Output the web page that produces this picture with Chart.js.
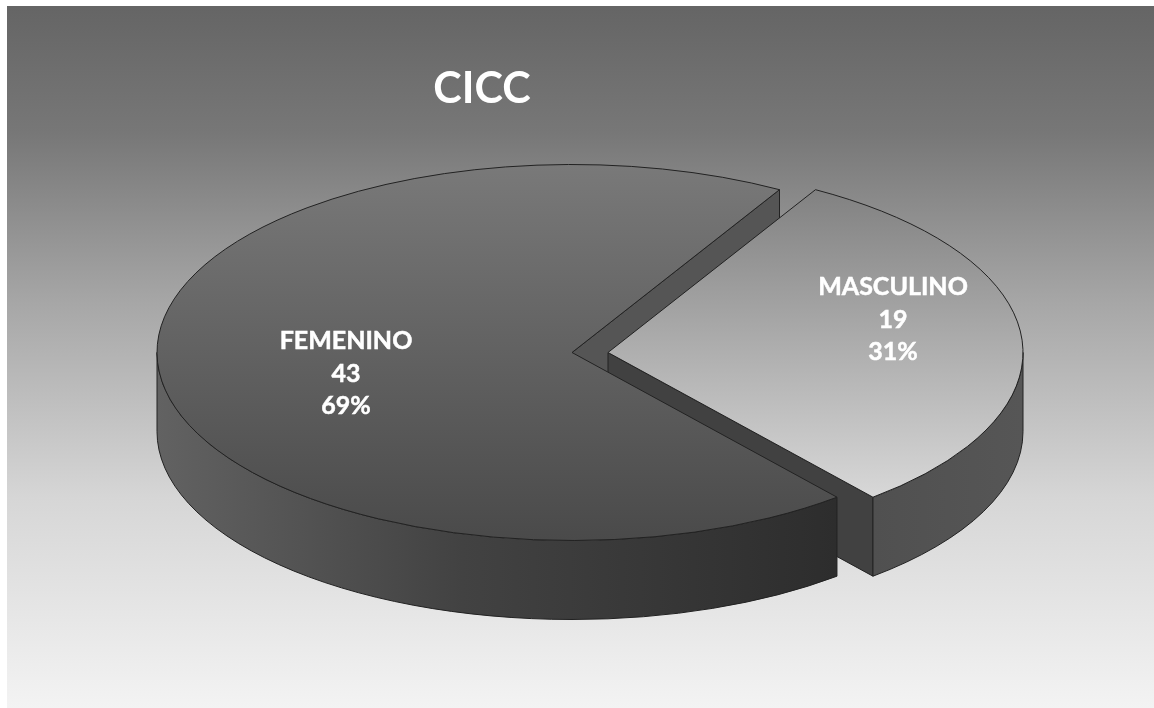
<!DOCTYPE html>
<html><head><meta charset="utf-8">
<style>html,body{margin:0;padding:0;background:#fff}canvas{display:block;filter:blur(0.5px)}</style>
<script src="https://cdn.jsdelivr.net/npm/chart.js@4"></script>
</head><body><canvas id="c" width="1154" height="708"></canvas>
<script>
const titleText = 'CICC';
const categories = ['MASCULINO', 'FEMENINO'];
const counts = [19, 43];
const percentLabels = ['31%', '69%'];

// presentation constants
const RX = 415, RY = 188, DEPTH = 79;
const CENTERS = [[608, 352.5], [572, 352.5]];
const LABEL_POS = [[893, 287], [346, 341]];
const LINE_GAP = 32.5;
const INK = '#222222';

function topGradient(ctx) {
  const chart = ctx.chart, i = ctx.dataIndex;
  const a = chart.chartArea;
  const r = chart.getDatasetMeta(0).controller.outerRadius;
  if (!a || !r || i === undefined) return '#777777';
  const y = (a.top + a.bottom) / 2;
  const g = chart.ctx.createLinearGradient(0, y - r, 0, y + r);
  if (i === 0) { g.addColorStop(0, '#7a7a7a'); g.addColorStop(1, '#e4e4e4'); }
  else { g.addColorStop(0, '#797979'); g.addColorStop(1, '#4a4a4a'); }
  return g;
}
const pt = (c, a, d = 0) => [c[0] + RX * Math.cos(a), c[1] + d + RY * Math.sin(a)];

function paint(ctx, fill) {
  ctx.fillStyle = fill; ctx.fill();
  ctx.strokeStyle = INK; ctx.lineWidth = 1; ctx.stroke();
}
function rimWall(ctx, c, a0, a1, fill) {
  ctx.beginPath();
  ctx.ellipse(c[0], c[1], RX, RY, 0, a0, a1);
  ctx.ellipse(c[0], c[1] + DEPTH, RX, RY, 0, a1, a0, true);
  ctx.closePath();
  paint(ctx, fill);
}
function cutWall(ctx, c, a, fill) {
  const p = pt(c, a);
  ctx.beginPath();
  ctx.moveTo(c[0], c[1]); ctx.lineTo(p[0], p[1]);
  ctx.lineTo(p[0], p[1] + DEPTH); ctx.lineTo(c[0], c[1] + DEPTH);
  ctx.closePath();
  paint(ctx, fill);
}
function topFace(ctx, arc, c) {
  const r = arc.outerRadius;
  ctx.save();
  ctx.translate(c[0], c[1]);
  ctx.scale(RX / r, RY / r);
  ctx.translate(-arc.x, -arc.y);
  arc.draw(ctx);
  ctx.restore();
  ctx.beginPath();
  ctx.moveTo(c[0], c[1]);
  ctx.ellipse(c[0], c[1], RX, RY, 0, arc.startAngle, arc.endAngle);
  ctx.closePath();
  ctx.strokeStyle = INK; ctx.lineWidth = 1; ctx.stroke();
}

const pie3d = {
  id: 'pie3d',
  beforeDraw(chart) {
    const ctx = chart.ctx;
    const g = ctx.createLinearGradient(0, 6, 0, 708);
    g.addColorStop(0, '#656565');
    g.addColorStop(0.18, '#777777');
    g.addColorStop(0.42, '#a6a6a6');
    g.addColorStop(0.7, '#d6d6d6');
    g.addColorStop(1, '#f3f3f3');
    ctx.fillStyle = g;
    ctx.fillRect(7, 6, 1147, 702);
  },
  beforeDatasetDraw(chart) {
    const ctx = chart.ctx;
    const [masc, fem] = chart.getDatasetMeta(0).data;
    const cm = CENTERS[0], cf = CENTERS[1];
    ctx.save();
    ctx.lineJoin = 'round';
    cutWall(ctx, cf, fem.endAngle, '#555555');
    cutWall(ctx, cm, masc.endAngle, '#414141');
    const mg = ctx.createLinearGradient(873, 0, 1023, 0);
    mg.addColorStop(0, '#505050'); mg.addColorStop(1, '#565656');
    rimWall(ctx, cm, 0, masc.endAngle, mg);
    topFace(ctx, masc, cm);
    const fg = ctx.createLinearGradient(157, 0, 836, 0);
    fg.addColorStop(0, '#626262'); fg.addColorStop(0.45, '#424242'); fg.addColorStop(1, '#2d2d2d');
    rimWall(ctx, cf, fem.startAngle, Math.PI, fg);
    topFace(ctx, fem, cf);
    ctx.restore();
    return false;
  },
  afterDatasetsDraw(chart) {
    const ctx = chart.ctx;
    ctx.save();
    ctx.fillStyle = '#ffffff';
    ctx.strokeStyle = '#ffffff';
    ctx.lineWidth = 0.5;
    ctx.font = 'bold 25px Lato';
    ctx.textAlign = 'center';
    ctx.textBaseline = 'middle';
    categories.forEach((name, i) => {
      const [x, y] = LABEL_POS[i];
      [name, String(counts[i]), percentLabels[i]].forEach((t, k) => {
        ctx.fillText(t, x, y + k * LINE_GAP);
        ctx.strokeText(t, x, y + k * LINE_GAP);
      });
    });
    ctx.restore();
  }
};

new Chart(document.getElementById('c'), {
  type: 'pie',
  data: { labels: categories, datasets: [{ data: counts, backgroundColor: topGradient, borderWidth: 0 }] },
  options: {
    responsive: false,
    animation: false,
    rotation: 30,
    layout: { padding: { right: 190 } },
    plugins: {
      legend: { display: false },
      tooltip: { enabled: false },
      title: {
        display: true, text: titleText, color: '#ffffff', fullSize: false,
        font: { family: 'Lato', size: 43, weight: 'bold' },
        padding: { top: 63, bottom: 0 }
      }
    }
  },
  plugins: [pie3d]
});
</script></body></html>
